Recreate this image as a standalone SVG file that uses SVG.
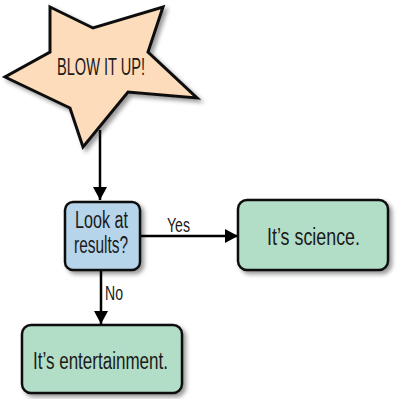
<svg xmlns="http://www.w3.org/2000/svg" width="398" height="399" viewBox="0 0 398 399">
<defs>
<filter id="sh" x="-20%" y="-20%" width="150%" height="150%">
<feDropShadow dx="3" dy="3" stdDeviation="2.2" flood-color="#000" flood-opacity="0.4"/>
</filter>
<marker id="arr" markerUnits="userSpaceOnUse" markerWidth="14" markerHeight="14" refX="13" refY="7" orient="auto">
<path d="M0,0 L13,7 L0,14 Z" fill="#000"/>
</marker>
<style>
.t{font-family:"Liberation Sans",Arial,sans-serif;font-size:23px;fill:#1a1a1a;text-anchor:middle}
.l{font-family:"Liberation Sans",Arial,sans-serif;font-size:19.5px;fill:#1a1a1a}
.box{stroke:#111;stroke-width:2.5}
.c{stroke:#000;stroke-width:2.5;fill:none}
</style>
</defs>
<g id="connectors">
<line class="c" x1="100" y1="130" x2="100" y2="200" marker-end="url(#arr)"/>
<line class="c" x1="140" y1="236" x2="238" y2="236" marker-end="url(#arr)"/>
<line class="c" x1="101" y1="270" x2="101" y2="324" marker-end="url(#arr)"/>
<text class="l" x="167" y="232" textLength="23" lengthAdjust="spacingAndGlyphs">Yes</text>
<text class="l" x="105" y="300" textLength="18" lengthAdjust="spacingAndGlyphs">No</text>
</g>
<g id="star">
<polygon points="50,7 93,28 163,7 148,52 197,98 128,92 83,147 70,108 5,77 50,52" fill="#fddcbb" stroke="#111" stroke-width="3" stroke-linejoin="miter" filter="url(#sh)"/>
<text class="t" x="101" y="75" textLength="88" lengthAdjust="spacingAndGlyphs">BLOW IT UP!</text>
</g>
<g id="decision">
<rect class="box" x="65" y="202" width="75" height="68" rx="8" fill="#b6d4ea" filter="url(#sh)"/>
<text class="t" x="101.5" y="228" textLength="53" lengthAdjust="spacingAndGlyphs">Look at</text>
<text class="t" x="101" y="253" textLength="54" lengthAdjust="spacingAndGlyphs">results?</text>
</g>
<g id="science">
<rect class="box" x="238" y="200" width="150" height="70" rx="9" fill="#b2dec7" filter="url(#sh)"/>
<text class="t" x="313.5" y="245" textLength="93" lengthAdjust="spacingAndGlyphs">It’s science.</text>
</g>
<g id="entertainment">
<rect class="box" x="22" y="325" width="160" height="68" rx="9" fill="#b2dec7" filter="url(#sh)"/>
<text class="t" x="100.5" y="369" textLength="135" lengthAdjust="spacingAndGlyphs">It’s entertainment.</text>
</g>
</svg>
